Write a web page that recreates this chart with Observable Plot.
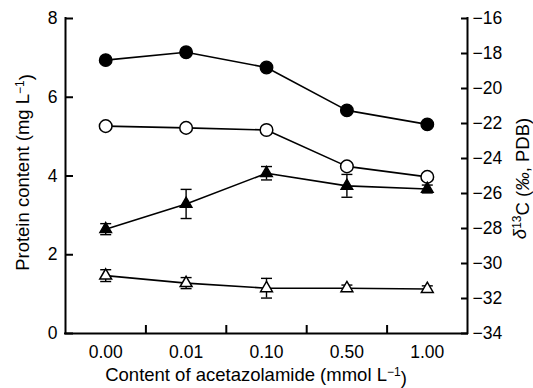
<!DOCTYPE html>
<html><head><meta charset="utf-8">
<script src="https://cdn.jsdelivr.net/npm/d3@7"></script>
<script src="https://cdn.jsdelivr.net/npm/@observablehq/plot@0.6"></script>
<style>body{margin:0;background:#fff} svg{display:block}</style>
</head><body><div id="chart"></div>
<script>
const categories = ["0.00", "0.01", "0.10", "0.50", "1.00"];
// δ13C (‰, PDB) — right axis
const d13cFilledCircle = [-18.38, -17.93, -18.8, -21.25, -22.05];
const d13cFilledCircleErr = [0.05, 0.05, 0.05, 0.05, 0.05];
const d13cOpenCircle = [-22.15, -22.25, -22.37, -24.45, -25.05];
const d13cOpenCircleErr = [0.05, 0.05, 0.05, 0.2, 0.2];
// Protein content (mg L-1) — left axis
const proteinFilledTri = [2.65, 3.29, 4.07, 3.75, 3.67];
const proteinFilledTriErr = [0.14, 0.37, 0.17, 0.29, 0.1];
const proteinOpenTri = [1.47, 1.28, 1.15, 1.15, 1.13];
const proteinOpenTriErr = [0.15, 0.14, 0.25, 0.08, 0.08];
const leftTicks = [0, 2, 4, 6, 8];
const rightTicks = [-34, -32, -30, -28, -26, -24, -22, -20, -18, -16];

const leftMin = leftTicks[0], leftMax = leftTicks[leftTicks.length - 1];
const rightMin = rightTicks[0], rightMax = rightTicks[rightTicks.length - 1];
const k = (rightMax - rightMin) / (leftMax - leftMin);
const toLeft = v => (v - rightMin) / k + leftMin;
const toRight = v => (v - leftMin) * k + rightMin;

const rows = (vals, errs, conv) => vals.map((v, i) => ({i, v: conv(v), e: errs[i] / (conv === toLeft ? k : 1)}));
const fc = rows(d13cFilledCircle, d13cFilledCircleErr, toLeft);
const oc = rows(d13cOpenCircle, d13cOpenCircleErr, toLeft);
const ft = rows(proteinFilledTri, proteinFilledTriErr, v => v);
const ot = rows(proteinOpenTri, proteinOpenTriErr, v => v);
const series = [fc, oc, ft, ot];

const idx = categories.map((_, i) => i);
const bounds = categories.slice(1).map((_, i) => i + 0.5);
const cap = {draw(ctx) { ctx.moveTo(-5.5, 0); ctx.lineTo(5.5, 0); }};
const minus = n => (n < 0 ? "\u2212" : "") + Math.abs(n);

const marks = [];
for (const s of series) marks.push(Plot.line(s, {x: "i", y: "v", stroke: "black", strokeWidth: 1.6}));
for (const s of series) {
  marks.push(Plot.ruleX(s, {x: "i", y1: d => d.v - d.e, y2: d => d.v + d.e, stroke: "black", strokeWidth: 1.4}));
  marks.push(Plot.dot(s, {x: "i", y: d => d.v - d.e, symbol: cap, stroke: "black", fill: "none", strokeWidth: 1.4}));
  marks.push(Plot.dot(s, {x: "i", y: d => d.v + d.e, symbol: cap, stroke: "black", fill: "none", strokeWidth: 1.4}));
}
marks.push(
  Plot.dot(fc, {x: "i", y: "v", r: 6.3, symbol: "circle", fill: "black", stroke: "black", strokeWidth: 1.3}),
  Plot.dot(oc, {x: "i", y: "v", r: 6.3, symbol: "circle", fill: "white", stroke: "black", strokeWidth: 1.5}),
  Plot.dot(ft, {x: "i", y: "v", r: 4.4, symbol: "triangle", fill: "black", stroke: "black", strokeWidth: 1.3}),
  Plot.dot(ot, {x: "i", y: "v", r: 4.4, symbol: "triangle", fill: "white", stroke: "black", strokeWidth: 1.5}),
  // frame lines
  Plot.ruleY([leftMin], {stroke: "black", strokeWidth: 2, strokeLinecap: "square"}),
  Plot.ruleX([idx[0] - 0.5, idx[idx.length - 1] + 0.5], {stroke: "black", strokeWidth: 2, strokeLinecap: "square"}),
  // inward ticks
  Plot.axisY({anchor: "left", ticks: leftTicks, tickSize: 8, dx: 8, tickFormat: () => "", label: null, strokeWidth: 2}),
  Plot.axisY({anchor: "left", ticks: leftTicks, tickSize: 0, tickPadding: 8, label: null}),
  Plot.axisY({anchor: "right", ticks: rightTicks.map(toLeft), tickSize: 7, dx: -7, tickFormat: () => "", label: null, strokeWidth: 2}),
  Plot.axisY({anchor: "right", ticks: rightTicks.map(toLeft), tickSize: 0, tickPadding: 5, tickFormat: v => minus(Math.round(toRight(v))), label: null}),
  Plot.axisX({anchor: "bottom", ticks: bounds, tickSize: 8, dy: -8, tickFormat: () => "", label: null, strokeWidth: 2}),
  Plot.axisX({anchor: "bottom", ticks: idx, tickSize: 0, tickPadding: 12, tickFormat: i => categories[i], label: null})
);

const plot = Plot.plot({
  width: 533, height: 388,
  marginLeft: 65, marginRight: 66, marginTop: 18, marginBottom: 55,
  style: {fontFamily: "'Liberation Sans', Arial, sans-serif", fontSize: "17.5px", color: "black", background: "white"},
  x: {type: "linear", domain: [idx[0] - 0.5, idx[idx.length - 1] + 0.5], label: null},
  y: {domain: [leftMin, leftMax], label: null},
  marks
});

const svg = d3.select(plot);
const ys = plot.scale("y"), xs = plot.scale("x");
const yMid = ys.apply((leftMin + leftMax) / 2);
const titleSize = "18.5px", supSize = "12px";

// left title
const lt = svg.append("text").attr("transform", `translate(29,${yMid - 3}) rotate(-90)`)
  .attr("text-anchor", "middle").attr("fill", "black").style("font-size", titleSize);
lt.append("tspan").text("Protein content (mg L");
lt.append("tspan").attr("dy", "-0.45em").style("font-size", supSize).text("\u22121");
lt.append("tspan").attr("dy", "0.45em").text(")");

// right title
const rt = svg.append("text").attr("transform", `translate(526,${yMid + 3}) rotate(-90)`)
  .attr("text-anchor", "middle").attr("fill", "black").style("font-size", titleSize);
rt.append("tspan").style("font-style", "italic").text("\u03B4");
rt.append("tspan").attr("dy", "-0.45em").style("font-size", supSize).text("13");
rt.append("tspan").attr("dy", "0.45em").text("C (");
rt.append("tspan").style("font-style", "italic").text("\u2030");
rt.append("tspan").text(", PDB)");

// bottom title
const bt = svg.append("text").attr("x", xs.apply(2) - 10).attr("y", 381)
  .attr("text-anchor", "middle").attr("fill", "black").style("font-size", titleSize);
bt.append("tspan").text("Content of acetazolamide (mmol L");
bt.append("tspan").attr("dy", "-0.45em").style("font-size", supSize).text("\u22121");
bt.append("tspan").attr("dy", "0.45em").text(")");

document.getElementById("chart").appendChild(plot);
</script>
</body></html>
